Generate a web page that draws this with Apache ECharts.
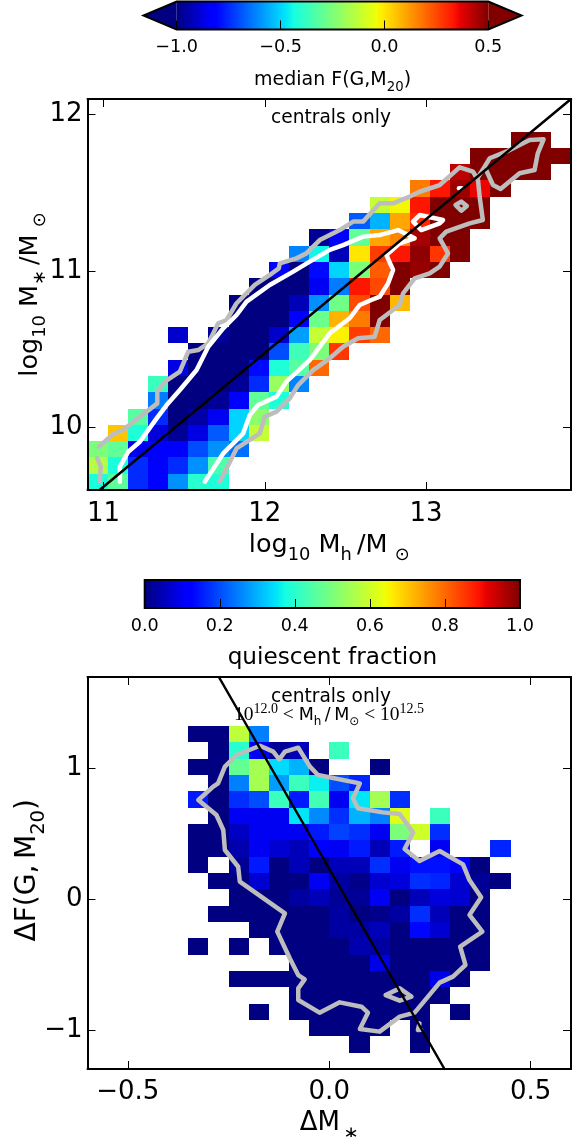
<!DOCTYPE html>
<html><head><meta charset="utf-8">
<style>html,body{margin:0;padding:0;background:#fff}#c{width:586px;height:1137px}</style>
<script src="https://cdn.jsdelivr.net/npm/echarts@6/dist/echarts.min.js"></script>
</head><body><div id="c"></div>
<script>
const _ = null;
const medianF = [
 [-.43,-.31,-.75,-.82,-.6,-.4,-.42],
 [-.15,-.43,-.75,-.82,-.75,-.6,-.34],
 [-.25,-.3,-.85,-.83,-.83,-.7,-.6,-.65],
 [_,.05,-.42,-.88,-.97,-.87,-.68,-.5,-.12],
 [_,_,-.32,-.75,-1,-.95,-.85,-.5,-.22],
 [_,_,_,-.63,-1,-1,-.97,-.83,-.3,-.42],
 [_,_,_,-.37,-1,-1,-1,-.97,-.75,-.2,-.62],
 [_,_,_,_,-.87,-1,-1,-1,-.8,-.42,-.32,.2],
 [_,_,_,_,_,-1,-1,-1,-1,-.7,-.36,-.25,.28],
 [_,_,_,_,-.9,_,-.97,-1,-1,-.9,-.58,-.12,-.02,.27,.2],
 [_,_,_,_,_,_,_,-1,-1,-1,-.83,-.28,.08,.17,.5],
 [_,_,_,_,_,_,_,-1,-1,-1,-.93,-.6,-.27,.25,.5,.07],
 [_,_,_,_,_,_,_,_,-1,-1,-1,-.85,-.63,.33,.25,.5],
 [_,_,_,_,_,_,_,_,_,-.82,-1,-.8,-.5,-.25,.22,.5,.47,.5],
 [_,_,_,_,_,_,_,_,_,_,-.62,-.45,-.93,0,.27,.33,.48,.28,.5],
 [_,_,_,_,_,_,_,_,_,_,_,-.97,-.83,-.3,.1,.15,.45,.5,.5],
 [_,_,_,_,_,_,_,_,_,_,_,_,_,-.68,-.55,.1,.3,.5,.5,.5],
 [_,_,_,_,_,_,_,_,_,_,_,_,_,_,-.12,-.03,.33,.5,.5,.5],
 [_,_,_,_,_,_,_,_,_,_,_,_,_,_,_,_,.17,.33,.46,.36,.5],
 [_,_,_,_,_,_,_,_,_,_,_,_,_,_,_,_,_,_,.42,.5,.5,.5,.5],
 [_,_,_,_,_,_,_,_,_,_,_,_,_,_,_,_,_,_,_,.5,.5,.5,.5,.5],
 [_,_,_,_,_,_,_,_,_,_,_,_,_,_,_,_,_,_,_,_,_,.5,.5]
];
const quiescent = [
 [],
 [_,_,_,_,_,_,_,_,_,_,_,_,_,0,_,_,0],
 [_,_,_,_,_,_,_,_,_,_,_,0,0,0,0,_,0],
 [_,_,_,_,_,_,_,_,0,_,0,0,0,0,0,0,0,_,0],
 [_,_,_,_,_,_,_,_,_,_,0,0,0,0,0,0,0,0],
 [_,_,_,_,_,_,_,0,0,0,0,0,0,0,0,0,0,.09,0],
 [_,_,_,_,_,_,_,_,_,_,0,0,0,0,.09,0,0,0,0,0],
 [_,_,_,_,_,0,_,0,_,0,0,0,0,.04,.03,0,0,0,0,0],
 [_,_,_,_,_,_,_,_,0,0,0,0,.03,.03,.05,0,.13,.07,0,0],
 [_,_,_,_,_,_,0,0,0,0,0,0,.03,0,.01,.03,.17,.05,0,0],
 [_,_,_,_,_,_,_,0,0,0,.03,.05,.02,.02,.1,0,.05,.08,.07,0],
 [_,_,_,_,_,_,0,0,.07,0,0,.1,.03,.01,.07,.08,.17,.16,.07,.02,0],
 [_,_,_,_,_,0,_,.02,.15,0,.05,0,.05,.05,.17,.1,.14,.14,.12,0],
 [_,_,_,_,_,0,0,.04,.1,.07,.05,.12,.1,.15,.05,.15,_,.1,_,_,.16],
 [_,_,_,_,_,0,0,.06,.1,.1,.1,.15,.19,.17,.1,.5,.6,.17],
 [_,_,_,_,_,_,0,.1,.1,.1,.35,.26,.17,.3,.25,.62,_,.42],
 [_,_,_,_,_,.15,0,.17,.2,.42,.15,.43,.1,.35,.55,.17],
 [_,_,_,_,_,_,0,.25,.55,.28,.42,.36,.2,.16],
 [_,_,_,_,_,0,0,.47,.55,.34,.3,0,_,_,0],
 [_,_,_,_,_,_,0,.4,.1,.02,.05,_,.42],
 [_,_,_,_,_,0,0,.58,.25]
];
const grayMain = [[10.971,9.877],[11.06,9.958],[11.122,9.984],[11.184,10.037],[11.267,10.101],[11.333,10.154],[11.333,10.229],[11.38,10.293],[11.473,10.357],[11.525,10.484],[11.587,10.495],[11.649,10.538],[11.711,10.666],[11.763,10.687],[11.825,10.794],[11.938,10.911],[12.031,10.975],[12.087,11.017],[12.093,11.049],[12.196,11.081],[12.258,11.113],[12.341,11.198],[12.403,11.23],[12.465,11.262],[12.548,11.316],[12.61,11.316],[12.713,11.433],[12.796,11.433],[12.899,11.476],[12.961,11.507],[13.085,11.55],[13.209,11.663],[13.292,11.635],[13.323,11.582],[13.333,11.476],[13.353,11.326],[13.271,11.305],[13.126,11.252],[13.085,11.209],[13.137,11.113],[13.085,11.028],[13.023,10.985],[12.93,10.953],[12.858,10.857],[12.837,10.783],[12.713,10.687],[12.682,10.58],[12.579,10.57],[12.486,10.516],[12.403,10.442],[12.30,10.367],[12.207,10.271],[12.155,10.186],[12.073,10.101],[12.00,10.069],[11.969,9.962],[11.825,9.866],[11.721,9.653]];
const grayLobe = [[13.323,11.6],[13.364,11.667],[13.395,11.721],[13.498,11.763],[13.643,11.838],[13.73,11.842],[13.694,11.753],[13.674,11.646],[13.581,11.625],[13.463,11.525],[13.416,11.55],[13.364,11.667]];
const grayBlob = [[13.184,11.422],[13.219,11.444],[13.254,11.416],[13.219,11.386],[13.184,11.422]];
const grayCorner = [[10.961,9.802],[10.982,9.749],[10.977,9.653]];
const whiteMain = [[11.101,9.653],[11.101,9.749],[11.153,9.845],[11.225,9.909],[11.329,10.058],[11.391,10.143],[11.473,10.239],[11.577,10.367],[11.649,10.516],[11.742,10.634],[11.825,10.719],[11.887,10.804],[12.031,10.911],[12.176,10.996],[12.279,11.06],[12.403,11.135],[12.486,11.166],[12.61,11.22],[12.713,11.23],[12.827,11.262],[12.93,11.209],[12.837,11.177],[12.754,11.103],[12.796,11.007],[12.765,10.921],[12.713,10.836],[12.661,10.815],[12.589,10.783],[12.527,10.698],[12.403,10.602],[12.279,10.431],[12.134,10.293],[12.073,10.197],[11.959,10.143],[11.907,10.08],[11.866,9.962],[11.742,9.834],[11.628,9.653]];
const whiteLoop = [[12.92,11.316],[12.961,11.358],[13.106,11.326],[13.085,11.305],[12.971,11.262],[12.92,11.316]];
const whiteDot = [[13.205,11.529],[13.222,11.529]];
const topDiagonal = [[10.975,9.6],[13.9,12.1]];
const grayDelta = [[-.325,.759],[-.288,.861],[-.276,.886],[-.259,1.014],[-.23,1.103],[-.172,1.174],[-.139,1.129],[-.124,1.07],[-.11,1.129],[-.077,1.159],[-.048,1.014],[-.028,.95],[.076,.886],[.059,.771],[.071,.695],[.133,.664],[.175,.652],[.208,.509],[.187,.384],[.224,.292],[.274,.368],[.332,.266],[.336,.261],[.348,.146],[.377,.014],[.348,-.121],[.38,-.249],[.325,-.364],[.338,-.504],[.307,-.593],[.274,-.639],[.212,-.869],[.175,-.899],[.125,-1.014],[.076,-.994],[.096,-.869],[.08,-.823],[.026,-.79],[-.024,-.869],[-.077,-.772],[-.077,-.683],[-.061,-.614],[-.077,-.581],[-.098,-.453],[-.129,-.249],[-.11,-.109],[-.222,.134],[-.226,.248],[-.259,.376],[-.263,.529],[-.28,.644],[-.325,.759]];
const grayDeltaLoop = [[.14,-.734],[.175,-.683],[.204,-.746],[.175,-.777],[.14,-.734]];
const grayDeltaSpeck = [[.224,-.951],[.22,-1.002],[.228,-1.0]];
const bottomDiagonal = [[-.274,1.7],[.286,-1.3]];
const cbTicksF = [-1,-.5,0,.5];
const cbTicksQ = [0,.2,.4,.6,.8,1];
const topXTicks = [11,12,13];
const topYTicks = [10,11,12];
const botXTicks = [-.5,0,.5];
const botYTicks = [-1,0,1];
const topXRange = [10.9,13.9], topYRange = [9.6,12.1];
const botXRange = [-.6,.6], botYRange = [-1.3,1.7];
const fRange = [-1,.5];
const nBins = 24;

const FONT = 'DejaVu Sans';
const minus = v => String(v).replace('-', '\u2212');
const fix1 = v => minus(v.toFixed(1));
const jetAnchors = [0,.11,.125,.34,.35,.375,.64,.65,.66,.89,.91,1];
function seg(t, pts){ for(let k=1;k<pts.length;k++){ if(t<=pts[k][0]){const a=pts[k-1],b=pts[k];return a[1]+(b[1]-a[1])*(t-a[0])/(b[0]-a[0]);}} return pts[pts.length-1][1]; }
function jet(t){ t=Math.max(0,Math.min(1,t));
 const r=seg(t,[[0,0],[.35,0],[.66,1],[.89,1],[1,.5]]);
 const g=seg(t,[[0,0],[.125,0],[.375,1],[.64,1],[.91,0],[1,0]]);
 const b=seg(t,[[0,.5],[.11,1],[.34,1],[.65,0],[1,0]]);
 return 'rgb('+Math.round(r*255)+','+Math.round(g*255)+','+Math.round(b*255)+')';}
const jetStops = jetAnchors.map(o=>({offset:o,color:jet(o)}));

function cells(matrix, xr, yr){ const out=[], bw=(xr[1]-xr[0])/nBins, bh=(yr[1]-yr[0])/nBins;
 matrix.forEach((row,j)=>row.forEach((v,i)=>{ if(v!==null) out.push([xr[0]+i*bw, yr[0]+j*bh, v]); })); return {out,bw,bh}; }
function heat(matrix,xr,yr,vr,idx){ const {out,bw,bh}=cells(matrix,xr,yr);
 return {type:'custom',xAxisIndex:idx.x,yAxisIndex:idx.y,z:2,silent:true,data:out,encode:{x:0,y:1},
  renderItem(p,api){ const x=api.value(0),y=api.value(1),v=api.value(2);
   const a=api.coord([x,y]), b=api.coord([x+bw,y+bh]); const c=jet((v-vr[0])/(vr[1]-vr[0]));
   const l=Math.round(a[0]),r=Math.round(b[0]),t=Math.round(b[1]),d=Math.round(a[1]);
   return {type:'rect',shape:{x:l,y:t,width:r-l,height:d-t},style:{fill:c}}; }};}
function line(d,color,w,idx,z){ return {type:'line',xAxisIndex:idx.x,yAxisIndex:idx.y,data:d,showSymbol:false,symbol:'none',silent:true,z:z||3,
  lineStyle:{color,width:w,join:'round',cap:'round'},itemStyle:{color},animation:false}; }
function colorbar(idx, range, ext){
 return {type:'custom',xAxisIndex:idx.x,yAxisIndex:idx.y,z:2,silent:true,data:[[range[0],range[1]]],clip:false,
  renderItem(p,api){ const lo=api.coord([range[0],0]), hi=api.coord([range[1],1]);
   const children=[{type:'rect',shape:{x:lo[0],y:hi[1],width:hi[0]-lo[0],height:lo[1]-hi[1]},
     style:{fill:new echarts.graphic.LinearGradient(0,0,1,0,jetStops)}}];
   let outline;
   if(ext){ const tl=api.coord([range[0]-ext,.5]), tr=api.coord([range[1]+ext,.5]);
     children.push({type:'polygon',shape:{points:[[lo[0],hi[1]],tl,[lo[0],lo[1]]]},style:{fill:jet(0)}});
     children.push({type:'polygon',shape:{points:[[hi[0],hi[1]],tr,[hi[0],lo[1]]]},style:{fill:jet(1)}});
     outline=[[lo[0],hi[1]],[hi[0],hi[1]],tr,[hi[0],lo[1]],[lo[0],lo[1]],tl];
   } else outline=[[lo[0],hi[1]],[hi[0],hi[1]],[hi[0],lo[1]],[lo[0],lo[1]]];
   children.push({type:'polygon',shape:{points:outline},style:{fill:'none',stroke:'#000',lineWidth:2}});
   return {type:'group',children}; }};}

const axLine={show:true,onZero:false,lineStyle:{color:'#000',width:2}};
const tick=(vals,len)=>({show:true,inside:true,length:len||8,customValues:vals,lineStyle:{color:'#000',width:1}});
function frameAxes(gi,xr,yr,xt,yt,fmtX,fmtY,xName,yName,xGap,yGap,xm){
 const lab=(vals,fmt,m)=>({show:true,customValues:vals,formatter:fmt,fontFamily:FONT,fontSize:26,color:'#000',margin:m});
 return {x:[
  {gridIndex:gi,type:'value',position:'bottom',min:xr[0],max:xr[1],z:5,axisLine:axLine,axisTick:tick(xt),axisLabel:lab(xt,fmtX,xm),splitLine:{show:false},
   name:xName.t,nameLocation:'middle',nameGap:xGap,nameMoveOverlap:false,nameTextStyle:{fontFamily:FONT,fontSize:26,color:'#000',rich:xName.r}},
  {gridIndex:gi,type:'value',position:'top',min:xr[0],max:xr[1],z:5,axisLine:axLine,axisTick:tick(xt),axisLabel:{show:false},splitLine:{show:false}}],
  y:[
  {gridIndex:gi,type:'value',position:'left',min:yr[0],max:yr[1],z:5,axisLine:axLine,axisTick:tick(yt),axisLabel:lab(yt,fmtY,5),splitLine:{show:false},
   name:yName.t,nameLocation:'middle',nameRotate:90,nameGap:yGap,nameMoveOverlap:false,nameTextStyle:{fontFamily:FONT,fontSize:26,color:'#000',rich:yName.r}},
  {gridIndex:gi,type:'value',position:'right',min:yr[0],max:yr[1],z:5,axisLine:axLine,axisTick:tick(yt),axisLabel:{show:false},splitLine:{show:false}}]};
}
const R=(fs,clr)=>({n:{fontFamily:FONT,fontSize:fs,color:clr||'#000',lineHeight:fs*1.5,verticalAlign:'middle'},
 s:{fontFamily:FONT,fontSize:fs*.7,color:clr||'#000',lineHeight:fs*1.5,verticalAlign:'bottom'}});
const topAxes=frameAxes(1,topXRange,topYRange,topXTicks,topYTicks,v=>String(v),v=>String(v),
 {t:'{n|log}{s|10}{n| M}{s|h}{n|\u2009/M}{s|\u2009\u2009\u2299}',r:R(25.5)},
 {t:'{n|log}{s|10}{n| M}{s|\u2217}{n|\u2009/M}{s|\u2009\u2009\u2299}',r:R(25.5)},36,38,11);
const botAxes=frameAxes(3,botXRange,botYRange,botXTicks,botYTicks,fix1,v=>minus(v),
 {t:'{n|\u0394M}{s|\u2009\u2217}',r:R(26)},
 {t:'{n|\u2009\u0394F(G,\u2009M}{s|20}{n|)}',r:R(28)},35,39,10);

const cbx=(gi,r,ticks,name,gap,rich,fs)=>({gridIndex:gi,type:'value',position:'bottom',min:r[0],max:r[1],z:5,axisLine:{show:false},
 axisTick:tick(ticks,9),axisLabel:{show:true,customValues:ticks,formatter:fix1,fontFamily:FONT,fontSize:17.6,color:'#000',margin:9},splitLine:{show:false},
 name,nameLocation:'middle',nameGap:gap,nameTextStyle:{fontFamily:FONT,fontSize:fs,color:'#000',rich}});
const cby=gi=>({gridIndex:gi,type:'value',min:0,max:1,show:false});

const option={animation:false,backgroundColor:'#fff',
 grid:[{left:176.7,width:311.6,top:1.5,height:28,outerBoundsMode:'none'},{left:87.5,width:483.5,top:99,height:391,outerBoundsMode:'none'},
       {left:144.7,width:375.3,top:580,height:28,outerBoundsMode:'none'},{left:87.5,width:483.5,top:677,height:392,outerBoundsMode:'none'}],
 xAxis:[cbx(0,fRange,cbTicksF,'{n|median F(G,M}{s|20}{n|)}',36,R(19),19),topAxes.x[0],topAxes.x[1],
        cbx(2,[0,1],cbTicksQ,'quiescent fraction',38.5,undefined,23.2),botAxes.x[0],botAxes.x[1]],
 yAxis:[cby(0),topAxes.y[0],topAxes.y[1],cby(2),botAxes.y[0],botAxes.y[1]],
 series:[
  colorbar({x:0,y:0},fRange,.16),
  heat(medianF,topXRange,topYRange,fRange,{x:1,y:1}),
  ...[grayMain,grayLobe,grayBlob,grayCorner].map(d=>line(d,'#bdbdbd',4.5,{x:1,y:1})),
  ...[whiteMain,whiteLoop,whiteDot].map(d=>line(d,'#fff',4.5,{x:1,y:1})),
  line(topDiagonal,'#000',2.5,{x:1,y:1},4),
  colorbar({x:3,y:3},[0,1],0),
  heat(quiescent,botXRange,botYRange,[0,1],{x:4,y:4}),
  ...[grayDelta,grayDeltaLoop,grayDeltaSpeck].map(d=>line(d,'#bdbdbd',4.5,{x:4,y:4})),
  line(bottomDiagonal,'#000',2.5,{x:4,y:4},4)
 ],
 graphic:[
  {type:'text',x:331,y:118,z:10,style:{text:'centrals only',fontFamily:FONT,fontSize:18.6,fill:'#000',align:'center',verticalAlign:'middle'}},
  {type:'text',x:331,y:697,z:10,style:{text:'centrals only',fontFamily:FONT,fontSize:18.6,fill:'#000',align:'center',verticalAlign:'middle'}},
  {type:'text',x:329,y:715,z:10,style:{text:'{d|10}{e|12.0}{d| < }{m|M}{sb|h}{m|\u2009/\u2009M}{sb|\u2299}{d| < 10}{e|12.5}',align:'center',verticalAlign:'middle',
    rich:{d:{fontFamily:'Liberation Serif',fontSize:19.5,color:'#000',lineHeight:26,verticalAlign:'middle'},
          e:{fontFamily:'Liberation Serif',fontSize:14,color:'#000',lineHeight:26,verticalAlign:'top'},
          m:{fontFamily:FONT,fontSize:17.5,color:'#000',lineHeight:26,verticalAlign:'middle'},
          sb:{fontFamily:FONT,fontSize:12,color:'#000',lineHeight:26,verticalAlign:'bottom'}}}}
 ]};
const chart=echarts.init(document.getElementById('c'),null,{renderer:'canvas',width:586,height:1137});
chart.setOption(option);
</script></body></html>
